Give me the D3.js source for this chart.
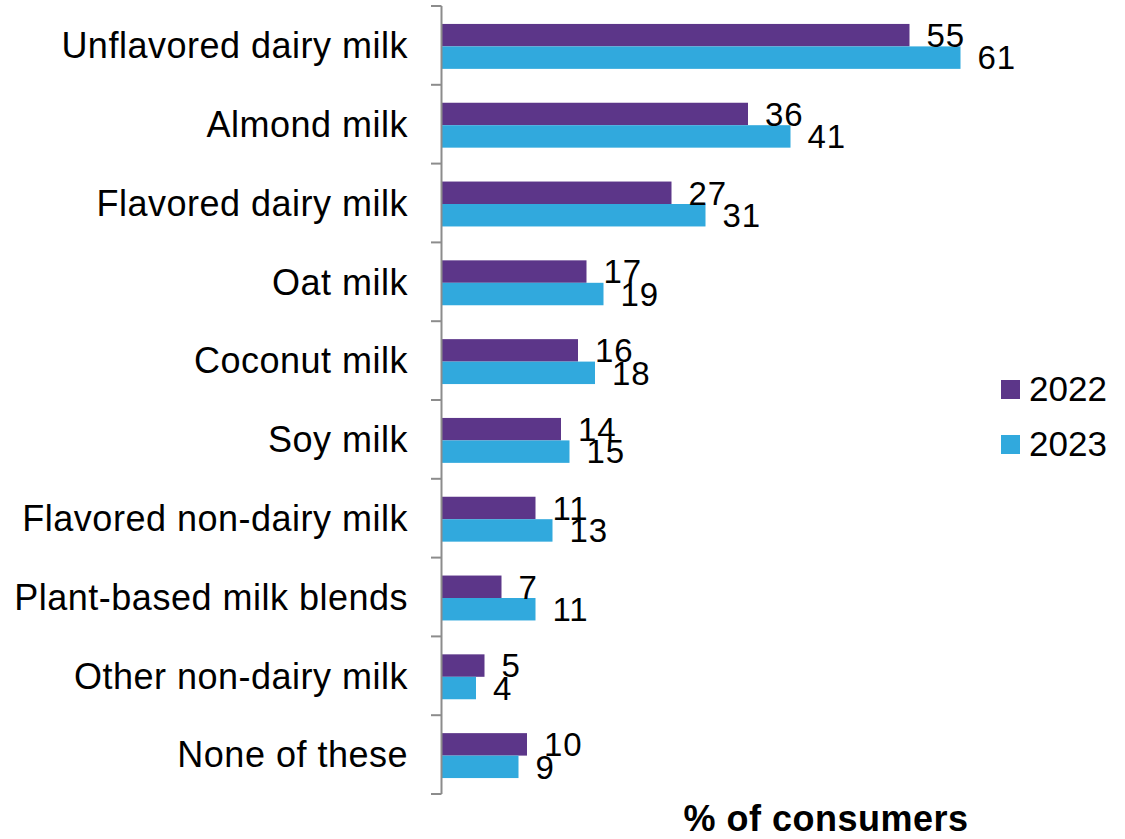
<!DOCTYPE html>
<html>
<head>
<meta charset="utf-8">
<script src="https://cdn.jsdelivr.net/npm/d3@7"></script>
<style>
  html, body { margin: 0; padding: 0; background: #ffffff; }
  svg { display: block; }
  text { font-family: "Liberation Sans", Arial, sans-serif; fill: #000; }
</style>
</head>
<body>
<svg id="chart" width="1125" height="839"></svg>
<script>
// Milk types consumed, share of consumers by year
const categories = [
  "Unflavored dairy milk",
  "Almond milk",
  "Flavored dairy milk",
  "Oat milk",
  "Coconut milk",
  "Soy milk",
  "Flavored non-dairy milk",
  "Plant-based milk blends",
  "Other non-dairy milk",
  "None of these"
];
const seriesNames = ["2022", "2023"];
const values2022 = [55, 36, 27, 17, 16, 14, 11, 7, 5, 10];
const values2023 = [61, 41, 31, 19, 18, 15, 13, 11, 4, 9];
const seriesColors = ["#5c3689", "#31a9dd"];
const axisTitle = "% of consumers";

const seriesValues = [values2022, values2023];
const rows = categories.map((c, i) => ({
  category: c,
  values: seriesNames.map((s, k) => ({ series: s, value: seriesValues[k][i] }))
}));

const svg = d3.select("#chart");

const axisX = 442;
const plotTop = 6, plotBottom = 794;

// category bands between the axis tick marks
const y0 = d3.scaleBand()
  .domain(categories)
  .range([plotTop + 1, plotBottom + 1])
  .paddingInner(0.43)
  .paddingOuter(0.215);

const y1 = d3.scaleBand()
  .domain(seriesNames)
  .range([0, y0.bandwidth()]);

const x = d3.scaleLinear()
  .domain([0, 70])
  .range([axisX, axisX + 70 * 8.5]);

const color = d3.scaleOrdinal().domain(seriesNames).range(seriesColors);

// bars
const groups = svg.append("g")
  .selectAll("g")
  .data(rows)
  .join("g")
  .attr("transform", d => `translate(0,${y0(d.category)})`);

groups.selectAll("rect")
  .data(d => d.values)
  .join("rect")
  .attr("x", x(0))
  .attr("y", d => y1(d.series))
  .attr("width", d => x(d.value) - x(0))
  .attr("height", y1.bandwidth())
  .attr("fill", d => color(d.series));

// value labels at bar ends
const valueFont = 33;
groups.selectAll("text.value")
  .data(d => d.values)
  .join("text")
  .attr("class", "value")
  .attr("x", d => x(d.value) + 17)
  .attr("y", d => y1(d.series) + y1.bandwidth() / 2 + valueFont * 0.358)
  .attr("font-size", valueFont)
  .attr("letter-spacing", 0.8)
  .text(d => d.value);

// category axis with ticks at the band boundaries
const bandStep = (plotBottom - plotTop) / categories.length;
const boundaries = d3.range(categories.length + 1).map(i => plotTop + i * bandStep);
const axisG = svg.append("g");
axisG.append("line")
  .attr("x1", axisX - 0.5).attr("x2", axisX - 0.5)
  .attr("y1", plotTop).attr("y2", plotBottom)
  .attr("stroke", "#8c8c8c").attr("stroke-width", 2);
axisG.selectAll("line.tick")
  .data(boundaries)
  .join("line")
  .attr("class", "tick")
  .attr("x1", axisX - 11).attr("x2", axisX - 0.5)
  .attr("y1", d => d).attr("y2", d => d)
  .attr("stroke", "#8c8c8c").attr("stroke-width", 2);

const catFont = 36;
axisG.selectAll("text.cat")
  .data(categories)
  .join("text")
  .attr("class", "cat")
  .attr("x", 408)
  .attr("y", (d, i) => (boundaries[i] + boundaries[i + 1]) / 2 + catFont * 0.358)
  .attr("text-anchor", "end")
  .attr("font-size", catFont)
  .attr("letter-spacing", 0.5)
  .text(d => d);

// legend
const legend = svg.append("g")
  .selectAll("g")
  .data(seriesNames)
  .join("g")
  .attr("transform", (d, i) => `translate(1001,${380 + i * 55})`);
legend.append("rect")
  .attr("width", 19).attr("height", 19)
  .attr("fill", d => color(d));
legend.append("text")
  .attr("x", 28).attr("y", 21)
  .attr("font-size", 35)
  .text(d => d);

// value axis title
svg.append("text")
  .attr("x", 826).attr("y", 831)
  .attr("text-anchor", "middle")
  .attr("font-size", 36)
  .attr("font-weight", "bold")
  .attr("letter-spacing", 0.5)
  .text(axisTitle);
</script>
</body>
</html>
